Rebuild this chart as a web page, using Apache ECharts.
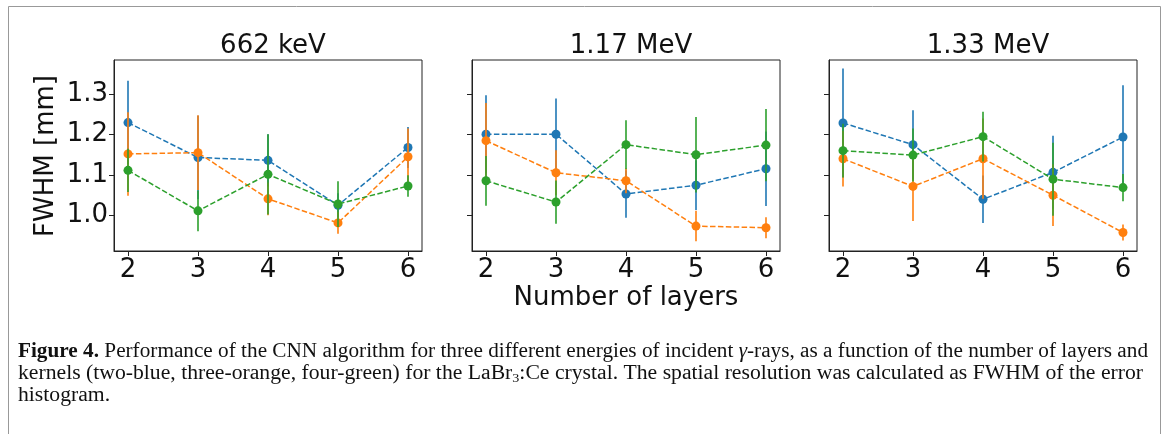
<!DOCTYPE html>
<html>
<head>
<meta charset="utf-8">
<script src="https://cdn.jsdelivr.net/npm/echarts@6/dist/echarts.min.js"></script>
<style>
html,body{margin:0;padding:0;background:#fff;}
#c{width:1168px;height:434px;}
</style>
</head>
<body>
<div id="c"></div>
<script>
// ---- data ----
const layers = [2, 3, 4, 5, 6];
const panelTitles = ['662 keV', '1.17 MeV', '1.33 MeV'];
const yTicks = [1.0, 1.1, 1.2, 1.3];
const seriesColors = ['#1f77b4', '#ff7f0e', '#2ca02c']; // two, three, four kernels

// 662 keV
const p1Blue = [1.230, 1.143, 1.136, 1.024, 1.168];
const p1BlueErr = [0.104, 0.104, 0.065, 0.030, 0.051];
const p1Orange = [1.152, 1.155, 1.040, 0.980, 1.145];
const p1OrangeErr = [0.104, 0.093, 0.041, 0.027, 0.070];
const p1Green = [1.111, 1.010, 1.101, 1.027, 1.072];
const p1GreenErr = [0.054, 0.051, 0.100, 0.057, 0.027];

// 1.17 MeV
const p2Blue = [1.201, 1.201, 1.052, 1.074, 1.115];
const p2BlueErr = [0.097, 0.089, 0.059, 0.062, 0.093];
const p2Orange = [1.185, 1.105, 1.085, 0.972, 0.968];
const p2OrangeErr = [0.094, 0.056, 0.031, 0.038, 0.026];
const p2Green = [1.085, 1.032, 1.175, 1.150, 1.174];
const p2GreenErr = [0.062, 0.054, 0.061, 0.094, 0.090];

// 1.33 MeV
const p3Blue = [1.229, 1.175, 1.039, 1.106, 1.194];
const p3BlueErr = [0.136, 0.086, 0.059, 0.091, 0.129];
const p3Orange = [1.140, 1.071, 1.140, 1.049, 0.956];
const p3OrangeErr = [0.069, 0.086, 0.100, 0.077, 0.020];
const p3Green = [1.160, 1.149, 1.195, 1.089, 1.068];
const p3GreenErr = [0.067, 0.066, 0.062, 0.091, 0.034];

const panels = [
  [[p1Blue, p1BlueErr], [p1Orange, p1OrangeErr], [p1Green, p1GreenErr]],
  [[p2Blue, p2BlueErr], [p2Orange, p2OrangeErr], [p2Green, p2GreenErr]],
  [[p3Blue, p3BlueErr], [p3Orange, p3OrangeErr], [p3Green, p3GreenErr]]
];

// caption pieces
const capL1a = 'Figure 4.';
const capL1b = ' Performance of the CNN algorithm for three different energies of incident ';
const capL1c = 'γ';
const capL1d = '-rays, as a function of the number of layers and';
const capL2a = 'kernels (two-blue, three-orange, four-green) for the LaBr';
const capL2b = '3';
const capL2c = ':Ce crystal. The spatial resolution was calculated as FWHM of the error';
const capL3 = 'histogram.';

// ---- layout ----
const gridLefts = [114, 472, 829];
const gridW = 308, gridTop = 60, gridH = 191;
const FONT = 'DejaVu Sans';
const fs = 26;
const CAPF = 'Liberation Serif';
const capFs = 20;

const grids = [], xAxes = [], yAxes = [], series = [], titles = [];
gridLefts.forEach((l, i) => {
  grids.push({left: l, top: gridTop, width: gridW, height: gridH, show: true,
    borderColor: '#222', borderWidth: 1, backgroundColor: 'transparent'});
  xAxes.push({type: 'value', gridIndex: i, min: 1.8, max: 6.2,
    axisLine: {show: true, onZero: false, lineStyle: {color: '#222', width: 1}},
    axisTick: {show: true, inside: false, length: 5, customValues: layers, lineStyle: {color: '#222'}},
    axisLabel: {show: true, customValues: layers, margin: 6, fontFamily: FONT, fontSize: fs, color: '#111',
      formatter: v => String(Math.round(v))},
    splitLine: {show: false}});
  yAxes.push({type: 'value', gridIndex: i, min: 0.91, max: 1.386,
    axisLine: {show: true, onZero: false, lineStyle: {color: '#222', width: 1}},
    axisTick: {show: true, inside: false, length: 5, customValues: yTicks, lineStyle: {color: '#222'}},
    axisLabel: {show: i === 0, customValues: yTicks, margin: 6, fontFamily: FONT, fontSize: fs, color: '#111',
      formatter: v => v.toFixed(1)},
    splitLine: {show: false}});
  titles.push({text: panelTitles[i], left: l + gridW / 2, top: 28, textAlign: 'center',
    textStyle: {fontFamily: FONT, fontSize: fs, fontWeight: 'normal', color: '#111'}});

  panels[i].forEach((pair, c) => {
    const vals = pair[0], errs = pair[1];
    const col = seriesColors[c];
    series.push({
      type: 'custom', xAxisIndex: i, yAxisIndex: i, z: 2 + c * 2, silent: true,
      data: layers.map((x, k) => [x, vals[k], errs[k]]),
      encode: {x: 0, y: 1},
      renderItem: function (params, api) {
        const x = api.value(0), y = api.value(1), e = api.value(2);
        const a = api.coord([x, y - e]), b = api.coord([x, y + e]);
        return {type: 'line', shape: {x1: a[0], y1: a[1], x2: b[0], y2: b[1]},
          style: {stroke: col, lineWidth: 1.6}};
      }
    });
    series.push({
      type: 'line', xAxisIndex: i, yAxisIndex: i, z: 3 + c * 2, silent: true,
      data: layers.map((x, k) => [x, vals[k]]),
      symbol: 'circle', symbolSize: 9, showSymbol: true,
      itemStyle: {color: col, borderWidth: 0},
      lineStyle: {color: col, width: 1.5, type: [5.5, 2.4]}
    });
  });
});

// measure caption lines to fit the reference line widths
const mctx = document.createElement('canvas').getContext('2d');
function tw(t, font) { mctx.font = font; return mctx.measureText(t).width; }
const fN = capFs + 'px "' + CAPF + '"';
const fB = 'bold ' + capFs + 'px "' + CAPF + '"';
const fI = 'italic ' + capFs + 'px "' + CAPF + '"';
const fS = '13px "' + CAPF + '"';
const w1 = tw(capL1a, fB) + tw(capL1b, fN) + tw(capL1c, fI) + tw(capL1d, fN);
const w2 = tw(capL2a, fN) + tw(capL2b, fS) + tw(capL2c, fN);
const sx1 = 1130 / w1;
const sx2 = 1125 / w2;

const chart = echarts.init(document.getElementById('c'), null, {renderer: 'canvas'});
chart.setOption({
  animation: false,
  backgroundColor: '#fff',
  title: titles,
  grid: grids,
  xAxis: xAxes,
  yAxis: yAxes,
  series: series,
  graphic: [
    {type: 'rect', shape: {x: 8.5, y: 6.5, width: 1152, height: 440}, style: {fill: 'none', stroke: '#999', lineWidth: 1}, z: -1},
    {type: 'text', style: {text: 'FWHM [mm]', font: fs + 'px "' + FONT + '"', fill: '#111', textAlign: 'center', textVerticalAlign: 'middle'},
      x: 46, y: 156, rotation: Math.PI / 2},
    {type: 'text', style: {text: 'Number of layers', font: fs + 'px "' + FONT + '"', fill: '#111', textAlign: 'center', textVerticalAlign: 'middle'},
      x: 626, y: 298},
    {type: 'text', x: 18, y: 352, scaleX: sx1, style: {
      text: '{b|' + capL1a + '}' + capL1b + '{i|' + capL1c + '}' + capL1d,
      font: fN, fill: '#111', textVerticalAlign: 'middle',
      rich: {b: {fontWeight: 'bold', fontFamily: CAPF, fontSize: capFs}, i: {fontStyle: 'italic', fontFamily: CAPF, fontSize: capFs}}}},
    {type: 'text', x: 18, y: 374, scaleX: sx2, style: {
      text: capL2a + '{s|' + capL2b + '}' + capL2c,
      font: fN, fill: '#111', textVerticalAlign: 'middle',
      rich: {s: {fontFamily: CAPF, fontSize: 13, padding: [9, 0, 0, 0]}}}},
    {type: 'text', x: 18, y: 396, scaleX: sx2, style: {
      text: capL3, font: fN, fill: '#111', textVerticalAlign: 'middle'}}
  ]
});
</script>
</body>
</html>
